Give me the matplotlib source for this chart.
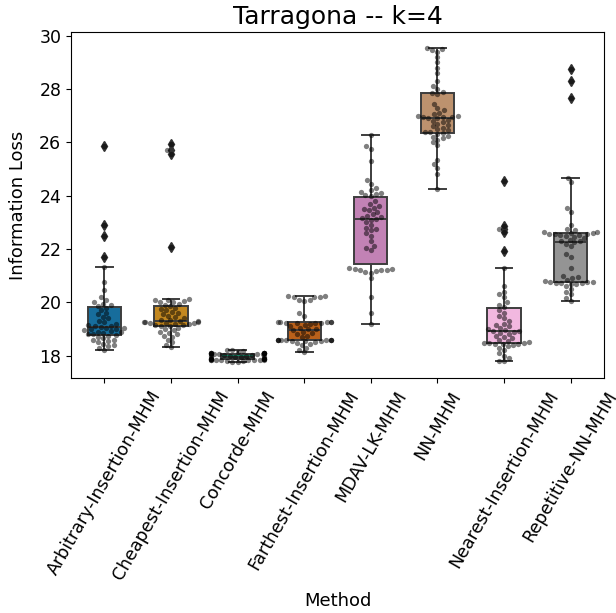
import matplotlib
matplotlib.use("Agg")
import matplotlib.pyplot as plt
import seaborn as sns
import pandas as pd
import warnings
warnings.filterwarnings("ignore")

methods = ["Arbitrary-Insertion-MHM", "Cheapest-Insertion-MHM", "Concorde-MHM",
           "Farthest-Insertion-MHM", "MDAV-LK-MHM", "NN-MHM",
           "Nearest-Insertion-MHM", "Repetitive-NN-MHM"]

arbitrary = [25.85, 22.9, 22.49, 21.7,
             21.34, 20.75, 20.45, 20.2, 20.1, 20.0, 19.95, 19.9,
             19.85, 19.8, 19.7, 19.6, 19.55, 19.45, 19.4, 19.3, 19.25, 19.2, 19.15, 19.12,
             19.1, 19.08, 19.05, 19.02, 19.0, 18.98, 18.95, 18.92, 18.9, 18.88, 18.85, 18.82, 18.8,
             18.78, 18.75, 18.7, 18.65, 18.6, 18.6, 18.55, 18.5, 18.45, 18.4, 18.35, 18.3, 18.21]

cheapest = [25.92, 25.7, 25.58, 22.07,
            20.12, 20.1, 20.08, 20.05, 20.02, 20.0, 19.95, 19.9,
            19.86, 19.8, 19.75, 19.7, 19.65, 19.6, 19.55, 19.5, 19.45, 19.4, 19.35, 19.32,
            19.3, 19.28, 19.27, 19.26, 19.25, 19.24, 19.23, 19.22, 19.2, 19.18, 19.16, 19.14, 19.12,
            19.1, 19.05, 19.0, 18.95, 18.9, 18.85, 18.8, 18.75, 18.7, 18.6, 18.5, 18.4, 18.31]

concorde = [18.22, 18.2, 18.18, 18.15,
            18.09, 18.09, 18.08, 18.08, 18.08, 18.08, 18.08, 18.08, 18.08, 18.07, 18.07, 18.07,
            18.07, 18.07, 18.06, 18.06,
            18.04, 18.02, 18.0, 17.98, 17.97, 17.96, 17.95, 17.93, 17.92, 17.9,
            17.87, 17.87, 17.86, 17.86, 17.86, 17.86, 17.86, 17.85, 17.85, 17.85, 17.85, 17.84,
            17.84, 17.84,
            17.8, 17.78, 17.76, 17.75, 17.82, 17.88]

farthest = [20.22, 20.22, 20.2, 20.2, 20.18, 20.1, 20.08, 20.05, 19.6, 19.5,
            19.26, 19.26, 19.25, 19.25, 19.24, 19.24, 19.23, 19.22, 19.25,
            19.2, 19.15, 19.1, 19.05, 19.0, 18.98, 18.95, 18.9, 18.85, 18.8, 18.75, 18.7,
            18.6, 18.6, 18.59, 18.59, 18.58, 18.58, 18.58, 18.57, 18.57, 18.56, 18.56, 18.55,
            18.5, 18.48, 18.45, 18.4, 18.3, 18.2, 18.12]

mdav = [26.29, 25.85, 25.75, 25.3, 24.6, 24.45, 24.3, 24.2, 24.1, 24.15,
        24.08, 24.03, 23.98, 23.8, 23.7, 23.6, 23.55, 23.5, 23.45, 23.4, 23.3, 23.25, 23.2, 23.15, 23.12,
        23.1, 23.0, 22.9, 22.8, 22.75, 22.7, 22.6, 22.5, 22.3, 22.1, 22.05, 21.95,
        21.28, 21.25, 21.24, 21.22, 21.2, 21.2, 21.18, 21.15, 21.1,
        20.9, 20.2, 19.6, 19.2]

nn = [29.55, 29.5, 29.45, 29.4, 29.2, 29.0, 28.8, 28.6, 28.3, 28.0, 28.1,
      27.88, 27.85, 27.8, 27.45, 27.3, 27.2, 27.1, 27.05, 27.0, 26.98, 26.96, 26.95, 26.94, 26.93,
      26.9, 26.85, 26.8, 26.75, 26.7, 26.65, 26.6, 26.55, 26.5, 26.45, 26.4, 26.38,
      26.35, 26.3, 26.25, 26.2, 26.15, 26.1, 26.0, 25.9, 25.35, 25.2, 25.05, 24.8, 24.26]

nearest = [24.54, 22.85, 22.75, 22.65, 21.93,
           21.3, 20.6, 20.4, 20.3, 20.2, 20.0, 19.9,
           19.83, 19.7, 19.6, 19.5, 19.4, 19.3, 19.2, 19.15, 19.1, 19.05, 19.0, 18.95, 18.94,
           18.92, 18.9, 18.85, 18.8, 18.75, 18.7, 18.65, 18.6, 18.55, 18.5, 18.48, 18.47,
           18.46, 18.45, 18.44, 18.42, 18.4, 18.35, 18.3, 18.2, 18.1, 18.0, 17.9, 17.8, 17.79]

repetitive = [28.74, 28.32, 27.66,
              24.67, 24.5, 23.55, 23.4, 22.9, 22.75, 22.7, 22.65, 22.62,
              22.6, 22.59, 22.58, 22.57, 22.55, 22.54, 22.52, 22.5, 22.45, 22.4, 22.35, 22.3, 22.29,
              22.25, 22.2, 22.1, 21.8, 21.7, 21.3, 21.0, 20.95, 20.9, 20.85, 20.8, 20.78,
              20.75, 20.75, 20.74, 20.73, 20.72, 20.7, 20.7, 20.6, 20.5, 20.4, 20.3, 20.15, 20.06]

series = [arbitrary, cheapest, concorde, farthest, mdav, nn, nearest, repetitive]

rows = []
for m, vals in zip(methods, series):
    for v in vals:
        rows.append((m, v))
df = pd.DataFrame(rows, columns=["Method", "Information Loss"])

fig = plt.figure(figsize=(6.16, 6.13), dpi=100)
ax = fig.add_axes([71/616, 1 - 378/613, (604 - 71)/616, (378 - 32)/613])

sns.boxplot(data=df, x="Method", y="Information Loss", order=methods,
            hue="Method", hue_order=methods, palette="colorblind", legend=False,
            width=0.5, saturation=0.75, ax=ax, linecolor="0.24", linewidth=1.4,
            flierprops=dict(marker="d", markerfacecolor="0.2",
                            markeredgecolor="0.2", markersize=5))
sns.swarmplot(data=df, x="Method", y="Information Loss", order=methods,
              color="k", alpha=0.5, size=3.8, ax=ax)

ax.set_title("Tarragona -- k=4", fontsize=18)
ax.set_xlabel("Method", fontsize=13, labelpad=6)
ax.set_ylabel("Information Loss", fontsize=13, labelpad=9)
ax.tick_params(axis="y", labelsize=12.5)
ax.tick_params(axis="x", labelsize=12.5)
plt.setp(ax.get_xticklabels(), rotation=60, ha="center")

fig.savefig("out.png", dpi=100)
